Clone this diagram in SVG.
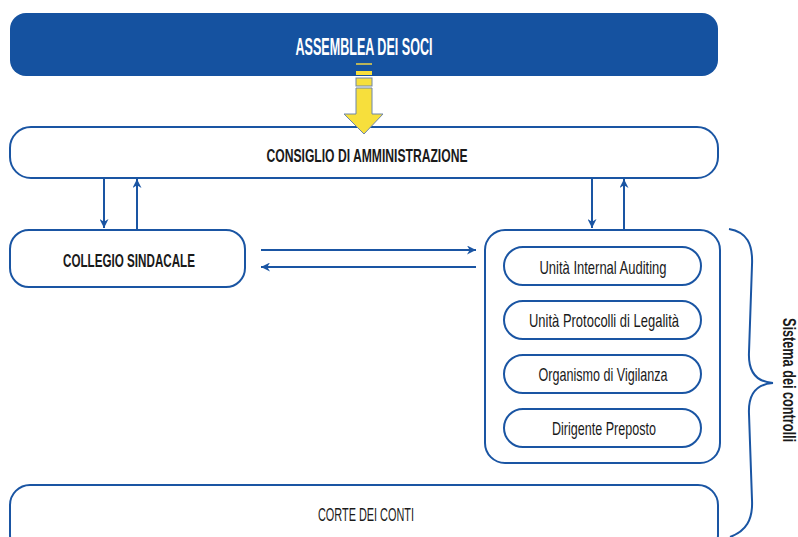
<svg xmlns="http://www.w3.org/2000/svg" width="798" height="537" viewBox="0 0 798 537">
<style>
.box{fill:#fff;stroke:#1a55a3;stroke-width:2}
.conn{stroke:#1a55a3;stroke-width:2;fill:none}
.lb{font-family:"Liberation Sans",Arial,sans-serif;font-weight:bold;fill:#1a1a1a;text-anchor:middle}
.lr{font-family:"Liberation Sans",Arial,sans-serif;fill:#1a1a1a;text-anchor:middle}
.yel{fill:#f7df3c;stroke:#6f86a8;stroke-width:1}
</style>
<defs>
<marker id="ah" viewBox="0 0 10 10" refX="10" refY="5" markerWidth="11" markerHeight="9" markerUnits="userSpaceOnUse" orient="auto">
<path d="M0,0 L10,5 L0,10 L3,5 Z" fill="#1a55a3"/>
</marker>
</defs>
<rect width="798" height="537" fill="#fff"/>
<g id="assemblea">
<rect x="10" y="13" width="708" height="63" rx="16" fill="#1552a0"/>
<text class="lb" x="364" y="55" font-size="23" style="fill:#fff" textLength="137" lengthAdjust="spacingAndGlyphs">ASSEMBLEA DEI SOCI</text>
</g>
<g id="consiglio">
<rect class="box" x="10" y="127" width="708" height="51" rx="21"/>
<text class="lb" x="367" y="162" font-size="19" textLength="201" lengthAdjust="spacingAndGlyphs">CONSIGLIO DI AMMINISTRAZIONE</text>
</g>
<g id="yellow-arrow">
<rect x="356" y="63" width="16" height="2" fill="#b8b35a"/>
<rect x="356" y="71" width="16" height="4" fill="#f7df3c"/>
<rect class="yel" x="356" y="78" width="16" height="8"/>
<path class="yel" d="M356,88 L372,88 L372,114 L383,114 L364,134 L344,114 L356,114 Z"/>
</g>
<g id="collegio">
<rect class="box" x="10" y="230" width="235" height="57" rx="19"/>
<text class="lb" x="129" y="267" font-size="19" textLength="132" lengthAdjust="spacingAndGlyphs">COLLEGIO SINDACALE</text>
</g>
<g id="sistema-controlli">
<rect class="box" x="485" y="230" width="235" height="233" rx="20"/>
</g>
<g id="internal-auditing">
<rect class="box" x="504" y="247" width="197" height="38" rx="19"/>
<text class="lr" x="603" y="274" font-size="19" textLength="127" lengthAdjust="spacingAndGlyphs">Unità Internal Auditing</text>
</g>
<g id="protocolli-legalita">
<rect class="box" x="504" y="301" width="197" height="38" rx="19"/>
<text class="lr" x="604" y="327" font-size="19" textLength="150" lengthAdjust="spacingAndGlyphs">Unità Protocolli di Legalità</text>
</g>
<g id="organismo-vigilanza">
<rect class="box" x="504" y="355" width="197" height="38" rx="19"/>
<text class="lr" x="603" y="381" font-size="19" textLength="129" lengthAdjust="spacingAndGlyphs">Organismo di Vigilanza</text>
</g>
<g id="dirigente-preposto">
<rect class="box" x="504" y="409" width="197" height="38" rx="19"/>
<text class="lr" x="604" y="435" font-size="19" textLength="104" lengthAdjust="spacingAndGlyphs">Dirigente Preposto</text>
</g>
<g id="corte-conti">
<rect class="box" x="10" y="485" width="708" height="70" rx="20"/>
<text class="lr" x="366" y="521" font-size="19" textLength="96" lengthAdjust="spacingAndGlyphs">CORTE DEI CONTI</text>
</g>
<g id="brace">
<path class="conn" d="M729,229 C747,232 753,244 752,265 L749,352 C748,372 757,382 773,383 C757,384 748,394 749,414 L752,500 C753,520 746,531 730,537"/>
<text class="lb" font-size="18" transform="translate(783,380) rotate(90)" textLength="124" lengthAdjust="spacingAndGlyphs">Sistema dei controlli</text>
</g>
<g id="connectors">
<line class="conn" x1="104" y1="178" x2="104" y2="228" marker-end="url(#ah)"/>
<line class="conn" x1="137" y1="230" x2="137" y2="179" marker-end="url(#ah)"/>
<line class="conn" x1="592" y1="178" x2="592" y2="228" marker-end="url(#ah)"/>
<line class="conn" x1="624" y1="230" x2="624" y2="179" marker-end="url(#ah)"/>
<line class="conn" x1="261" y1="250" x2="476" y2="250" marker-end="url(#ah)"/>
<line class="conn" x1="476" y1="267" x2="261" y2="267" marker-end="url(#ah)"/>
</g>
</svg>
